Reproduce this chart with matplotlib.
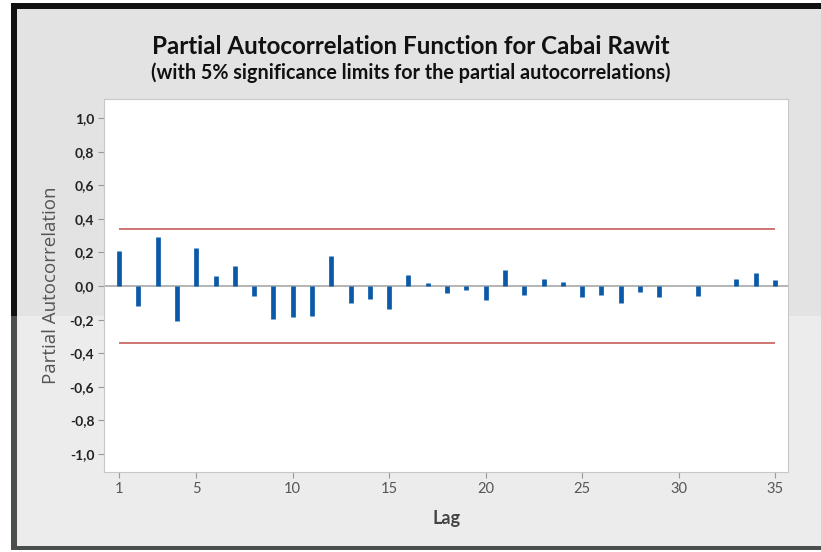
import matplotlib.pyplot as plt
from matplotlib.patches import Rectangle

lags = list(range(1, 36))
pacf = [0.208, -0.117, 0.294, -0.208, 0.226, 0.060, 0.119, -0.058, -0.198, -0.185,
        -0.177, 0.177, -0.101, -0.075, -0.135, 0.067, 0.018, -0.042, -0.026, -0.083,
        0.093, -0.052, 0.042, 0.024, -0.067, -0.052, -0.101, -0.034, -0.067, 0.0,
        -0.058, 0.0, 0.042, 0.075, 0.034]
limit = 0.337
yticks = [1.0, 0.8, 0.6, 0.4, 0.2, 0.0, -0.2, -0.4, -0.6, -0.8, -1.0]
xticks = [1, 5, 10, 15, 20, 25, 30, 35]

W, H = 821, 552
fig = plt.figure(figsize=(W / 100, H / 100), dpi=100)
fig.patch.set_facecolor('white')

# frame: black border on top/left, grey panel, lighter lower part
def px_rect(x0, y0, x1, y1, color, z):
    fig.patches.append(Rectangle((x0 / W, 1 - y1 / H), (x1 - x0) / W, (y1 - y0) / H,
                                 transform=fig.transFigure, facecolor=color,
                                 edgecolor='none', zorder=z))

px_rect(11, 3, W, 550, '#111111', -10)
px_rect(17, 9, W, 547, '#e3e3e3', -9)
px_rect(11, 316, 17, 550, '#4a4f4e', -8)
px_rect(11, 546, W, 550, '#4a4f4e', -8)
px_rect(17, 316, W, 546, '#ececec', -8)

ax = fig.add_axes([104 / W, 1 - 472 / H, (788 - 104) / W, (472 - 99) / H])
ax.set_facecolor('white')

ax.vlines(lags, 0, pacf, colors='#0b5aa8', linewidth=3.4, zorder=3)
ax.axhline(0, color='#a8a8a8', linewidth=1.2, zorder=2)
ax.hlines([limit, -limit], lags[0], lags[-1], colors='#c0504d', linewidth=1.1, zorder=2)

ax.set_xlim(0.22, 35.67)
ax.set_ylim(-1.107, 1.113)
ax.set_yticks(yticks)
ax.set_yticklabels([f'{v:.1f}'.replace('.', ',') for v in yticks],
                   fontweight='bold', fontsize=10, color='#222222', family='Lato')
ax.set_xticks(xticks)
ax.set_xticklabels([str(v) for v in xticks], fontsize=10.5, color='#555555', family='Lato')
ax.tick_params(axis='both', length=4, color='#999999', pad=3)
for s in ax.spines.values():
    s.set_color('#c8c8c8')

ax.set_ylabel('Partial Autocorrelation', fontsize=13.5, color='#555555',
              family='Open Sans', labelpad=7)
ax.set_xlabel('Lag', fontsize=13, color='#444444', fontweight='bold',
              family='Lato', labelpad=10)

fig.text(0.5, 1 - 47 / H, 'Partial Autocorrelation Function for Cabai Rawit',
         ha='center', va='center', fontsize=17.4, fontweight='bold', family='Lato',
         color='#111111')
fig.text(0.5, 1 - 73 / H, '(with 5% significance limits for the partial autocorrelations)',
         ha='center', va='center', fontsize=14.2, fontweight='bold', family='Lato',
         color='#111111')

fig.savefig('out.png', dpi=100, facecolor=fig.get_facecolor())
